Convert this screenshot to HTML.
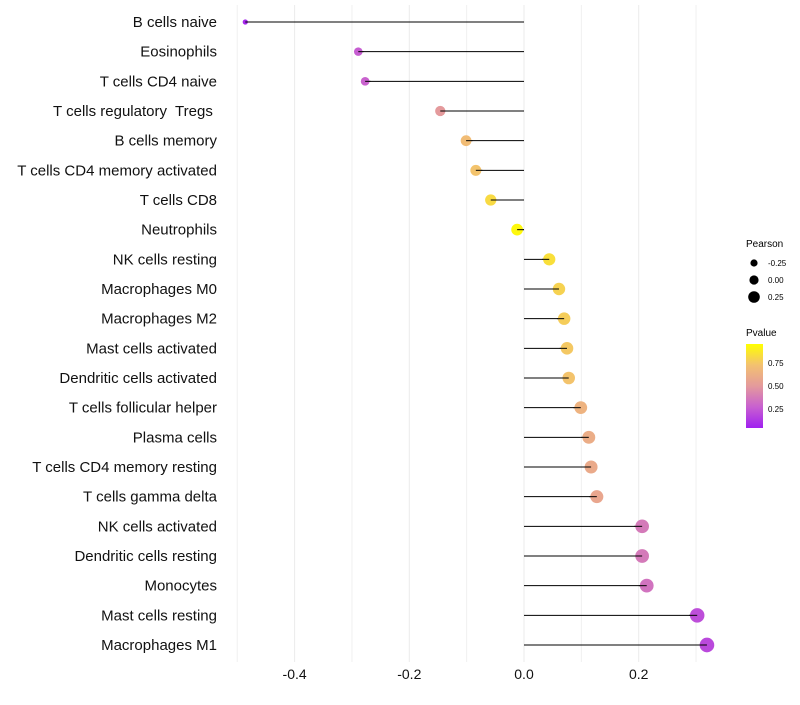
<!DOCTYPE html>
<html><head><meta charset="utf-8"><style>
body{margin:0;background:#fff;font-family:"Liberation Sans",sans-serif;}
svg text{font-family:"Liberation Sans",sans-serif;white-space:pre;}
</style></head><body>
<svg id="chart" width="800" height="700">
<defs><linearGradient id="pg" x1="0" y1="1" x2="0" y2="0">
<stop offset="0" stop-color="#A020F0"/><stop offset="0.25" stop-color="#C860D0"/><stop offset="0.5" stop-color="#E49A9C"/><stop offset="0.75" stop-color="#F3C170"/><stop offset="1" stop-color="#FFFF00"/></linearGradient></defs>
<g id="grid"></g><g id="marks"></g><g id="labels"></g>
<g>
<text x="746" y="247" font-size="10">Pearson</text>
<circle cx="754" cy="263" r="3.6" fill="#000"/><text x="768" y="266" font-size="8">-0.25</text>
<circle cx="754" cy="280" r="4.6" fill="#000"/><text x="768" y="283" font-size="8">0.00</text>
<circle cx="754" cy="297" r="5.8" fill="#000"/><text x="768" y="300" font-size="8">0.25</text>
</g>
<g>
<text x="746" y="336" font-size="10">Pvalue</text>
<rect x="746" y="344" width="17" height="84" fill="url(#pg)"/>
<text x="768" y="366" font-size="8">0.75</text>
<text x="768" y="389" font-size="8">0.50</text>
<text x="768" y="412" font-size="8">0.25</text>
</g>
</svg>
<script>
const categories=["B cells naive","Eosinophils","T cells CD4 naive","T cells regulatory  Tregs ","B cells memory","T cells CD4 memory activated","T cells CD8","Neutrophils","NK cells resting","Macrophages M0","Macrophages M2","Mast cells activated","Dendritic cells activated","T cells follicular helper","Plasma cells","T cells CD4 memory resting","T cells gamma delta","NK cells activated","Dendritic cells resting","Monocytes","Mast cells resting","Macrophages M1"];
const pearson=[-0.486,-0.289,-0.277,-0.146,-0.101,-0.084,-0.058,-0.012,0.044,0.061,0.070,0.075,0.078,0.099,0.113,0.117,0.127,0.206,0.206,0.214,0.302,0.319];
const pvalue=[0.03,0.24,0.26,0.5,0.72,0.76,0.85,0.97,0.87,0.82,0.8,0.78,0.76,0.66,0.62,0.6,0.58,0.36,0.36,0.33,0.18,0.16];
const xTicks=[-0.4,-0.2,0.0,0.2];
const xMinor=[-0.5,-0.3,-0.1,0.1,0.3];
const NS="http://www.w3.org/2000/svg";
function X(v){return 524+v*573.5;}
function Y(i){return 22+i*(623/21);}
function R(v){return Math.sqrt(Math.max(2.5,35+(v)*58));}
function hex(h){return [parseInt(h.substr(1,2),16),parseInt(h.substr(3,2),16),parseInt(h.substr(5,2),16)];}
const stops=[[0,"#A020F0"],[0.25,"#C860D0"],[0.5,"#E49A9C"],[0.75,"#F3C170"],[1,"#FFFF00"]];
function col(p){let k=0;while(k<stops.length-2&&p>stops[k+1][0])k++;const a=stops[k],b=stops[k+1];const t=Math.min(1,Math.max(0,(p-a[0])/(b[0]-a[0])));const ca=hex(a[1]),cb=hex(b[1]);return "rgb("+ca.map((c,j)=>Math.round(c+(cb[j]-c)*t)).join(",")+")";}
function mk(t,at,parent){const e=document.createElementNS(NS,t);for(const k in at)e.setAttribute(k,at[k]);parent.appendChild(e);return e;}
const g=document.getElementById("grid"),m=document.getElementById("marks"),l=document.getElementById("labels");
xMinor.forEach(v=>{const e=mk("line",{x1:X(v),x2:X(v),y1:5,y2:662,stroke:"#f0f0f0","stroke-width":1},g);

});
xTicks.forEach(v=>{const e=mk("line",{x1:X(v),x2:X(v),y1:5,y2:662,stroke:"#ebebeb","stroke-width":1},g);


const t=mk("text",{x:X(v),y:679,"font-size":14,"text-anchor":"middle",fill:"#111"},l);t.textContent=v.toFixed(1);

});
categories.forEach((c,i)=>{
const ln=mk("line",{x1:X(0),x2:X(pearson[i]),y1:Y(i),y2:Y(i),stroke:"#000","stroke-width":1},m);


const p=mk("circle",{cx:X(pearson[i]),cy:Y(i),r:R(pearson[i]),fill:col(pvalue[i])},m);


const ln2=mk("line",{x1:X(pearson[i])-(pearson[i]>0?R(pearson[i])+1:-(R(pearson[i])+1)),x2:X(pearson[i]),y1:Y(i),y2:Y(i),stroke:"#000","stroke-width":1},m);


const t=mk("text",{x:217,y:Y(i)+5,"font-size":15,"text-anchor":"end",fill:"#111"},l);t.textContent=c;

});
</script>
</body></html>
